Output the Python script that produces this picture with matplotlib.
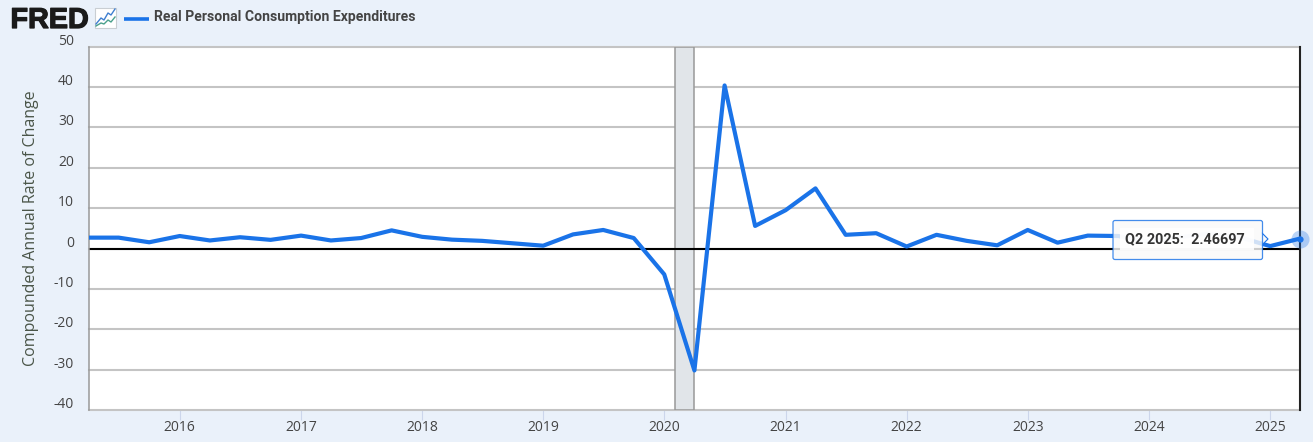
import pandas as pd
import matplotlib
matplotlib.use('Agg')
import matplotlib.pyplot as plt
import matplotlib.patheffects as pe
from matplotlib.patches import FancyBboxPatch, Polygon, Rectangle
from matplotlib.transforms import ScaledTranslation

quarters = pd.date_range('2015-04-01', '2025-04-01', freq='QS')
pce_growth = [2.7, 2.7, 1.55, 3.1, 2.0, 2.8, 2.15, 3.2, 2.0, 2.6, 4.5,
              2.9, 2.2, 1.9, 1.3, 0.7, 3.5, 4.6, 2.6, -6.4, -30.2,
              40.4, 5.6, 9.5, 14.9, 3.4, 3.8, 0.5, 3.4, 1.9, 0.8,
              4.6, 1.45, 3.2, 3.1, 1.7, 2.8, 3.7, 2.8, 0.6, 2.46697]
recession = ['2020-02-01', '2020-04-01']
year_ticks = [str(y) for y in range(2016, 2026)]
y_ticks = [50, 40, 30, 20, 10, 0, -10, -20, -30, -40]

W, H = 1313, 442
BG = '#eaf1fa'
BLUE = '#1a73e8'
TEXT = '#444444'

fig = plt.figure(figsize=(W / 100, H / 100), dpi=100, facecolor=BG)
ax = fig.add_axes([88.5 / W, 1 - 410 / H, (1300 - 88.5) / W, (410 - 46.7) / H])
ax.set_facecolor('white')

# grid and zero line
ax.set_ylim(-40, 50)
ax.set_xlim(quarters[0], quarters[-1])
ax.set_yticks(y_ticks)
ax.set_yticklabels([str(v) for v in y_ticks])
ax.grid(axis='y', color='#c4c4c4', lw=1.5, zorder=1, clip_on=False)
ax.set_axisbelow(True)
ax.axhline(0, color='black', lw=1.5, zorder=2)
ax.axvspan(pd.Timestamp(recession[0]), pd.Timestamp(recession[1]), facecolor='#e1e5e9',
           edgecolor='#999999', lw=1.1, zorder=1.5)

ax.plot(quarters, pce_growth, color=BLUE, lw=3, solid_joinstyle='round', zorder=3)
ax.plot(quarters[-1], pce_growth[-1], 'o', color=BLUE, alpha=0.3, ms=13, mew=0, clip_on=False, zorder=3)
ax.plot(quarters[-1], pce_growth[-1], 'o', color=BLUE, ms=4.5, mew=0, clip_on=False, zorder=3)

for side in ['top', 'bottom']:
    ax.spines[side].set_visible(False)
ax.spines['left'].set_color('#999999')
ax.spines['left'].set_linewidth(1.1)
ax.spines['right'].set_color('#222222')
ax.spines['right'].set_linewidth(1.5)

ax.set_xticks([pd.Timestamp(y + '-01-01') for y in year_ticks])
ax.set_xticklabels(year_ticks)
ax.tick_params(axis='x', length=7, color='#ccd6eb', width=0.8, pad=0.5, labelsize=10, labelcolor=TEXT)
ax.tick_params(axis='y', length=0, pad=10.5, labelsize=10, labelcolor=TEXT)
for lab in ax.get_xticklabels() + ax.get_yticklabels():
    lab.set_family('Open Sans')
shift = ScaledTranslation(0, 7.5 / 100, fig.dpi_scale_trans)
for lab in ax.get_yticklabels():
    lab.set_transform(lab.get_transform() + shift)

fig.text(31 / W, 1 - 228 / H, 'Compounded Annual Rate of Change', rotation=90, ha='center', va='center',
         family='Open Sans', fontsize=11.5, color='#4a5548')

# header and tooltip, placed in pixels
over = fig.add_axes([0, 0, 1, 1], facecolor='none')
over.set_xlim(0, W)
over.set_ylim(H, 0)
over.axis('off')

logo = over.text(10.5, 28, 'FRED', family='Liberation Sans', weight='bold', fontsize=20.7, color='#1a1a1a',
                 va='baseline', ha='left')
logo.set_path_effects([pe.withStroke(linewidth=0.9, foreground='#1a1a1a')])
over.add_patch(Rectangle((95, 7.5), 20.5, 20.5, fc='white', ec='#c9ced3', lw=0.8))
over.plot([96, 101, 104, 108, 111, 115], [24, 18, 20, 13, 15, 9], color='#3f7fd0', lw=1)
over.plot([96, 101, 104, 108, 111, 115], [26, 23, 24, 20, 22, 17], color='#4aa08c', lw=1)

over.plot([124, 149], [18.5, 18.5], color=BLUE, lw=2.6, solid_capstyle='butt')
over.text(154, 17.5, 'Real Personal Consumption Expenditures', family='Roboto', weight='bold', fontsize=10.1,
          color=TEXT, va='center', ha='left')

over.add_patch(Polygon([[1262, 233], [1268, 239], [1262, 245]], fc='#f9f9f9', ec='none', alpha=0.85, zorder=4))
over.plot([1262, 1268, 1262], [233, 239, 245], color=BLUE, lw=0.8, zorder=4)
over.add_patch(FancyBboxPatch((1113, 220.5), 149.5, 39, boxstyle='round,pad=0,rounding_size=2',
                              fc='#f9f9f9', ec=BLUE, lw=0.9, alpha=0.82, zorder=5))
over.add_patch(Rectangle((1120, 228), 134, 22, fc='white', ec='none', alpha=0.9, zorder=6))
over.text(1125, 239, 'Q2 2025:  2.46697', family='Roboto', weight='bold', fontsize=10.35,
          color='#333333', va='center', ha='left', zorder=7)

fig.savefig('out.png', dpi=100, facecolor=BG)
